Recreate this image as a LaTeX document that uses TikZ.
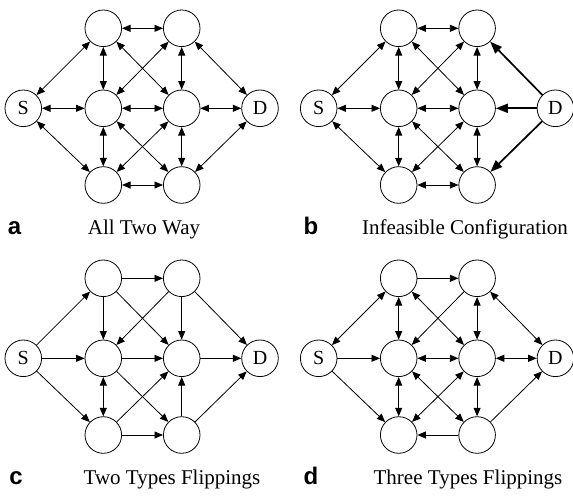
\documentclass[tikz,border=0pt]{standalone}
\usepackage{fontspec}
\setmainfont{Liberation Serif}
\setsansfont{Liberation Sans}
\usetikzlibrary{arrows.meta}

% the eight nodes of one network, names prefixed by #1
\newcommand{\netnodes}[1]{%
  \node[nd] (#1S)  at (0,0)        {S};
  \node[nd] (#1T1) at (80,-80)     {};
  \node[nd] (#1T2) at (158.4,-80)  {};
  \node[nd] (#1M1) at (80,0)       {};
  \node[nd] (#1M2) at (158.4,0)    {};
  \node[nd] (#1D)  at (236.7,0)    {D};
  \node[nd] (#1B1) at (80,76.7)    {};
  \node[nd] (#1B2) at (158.4,76.7) {};
}

\begin{document}
\begin{tikzpicture}[x=1pt, y=-1pt, line width=0.8pt,
          >={Triangle[length=8.5pt,width=7pt]},
          nd/.style={draw, circle, minimum size=36.6pt, inner sep=0pt,
                     font=\fontsize{20}{24}\selectfont},
          bi/.style={<->},
          one/.style={->},
          thk/.style={-{Triangle[length=12pt,width=9pt]}, line width=1.7pt},
          tagtxt/.style={anchor=base, font=\fontsize{24}{28}\selectfont\sffamily\bfseries},
          captxt/.style={anchor=base, font=\fontsize{21}{25}\selectfont}]
  \useasboundingbox (0,0) rectangle (573,501);

  % a: all two way
  \begin{scope}[shift={(23.3,108.3)}]
    \netnodes{a}
  \end{scope}
  \foreach \u/\v in {S/T1,S/M1,S/B1,T1/T2,T1/M1,T1/M2,T2/M1,T2/M2,T2/D,
                     M1/M2,M2/D,M1/B1,M1/B2,M2/B1,M2/B2,B1/B2,B2/D}
    \draw[bi] (a\u) -- (a\v);
  \node[tagtxt] (ta) at (14.5,234) {a};
  \node[captxt] (ca) at (144,234) {All Two Way};

  % b: infeasible configuration
  \begin{scope}[shift={(318.7,108.3)}]
    \netnodes{b}
  \end{scope}
  \foreach \u/\v in {S/T1,S/M1,S/B1,T1/T2,T1/M1,T1/M2,T2/M1,T2/M2,
                     M1/M2,M1/B1,M1/B2,M2/B1,M2/B2,B1/B2}
    \draw[bi] (b\u) -- (b\v);
  \foreach \v in {T2,M2,B2}
    \draw[thk] (bD) -- (b\v);
  \node[tagtxt] (tb) at (311,234) {b};
  \node[captxt] (cb) at (465,234) {Infeasible Configuration};

  % c: two types flippings
  \begin{scope}[shift={(23.3,358.3)}]
    \netnodes{c}
  \end{scope}
  \foreach \u/\v in {S/T1,S/M1,S/B1,T1/T2,T1/M1,T1/M2,T2/M1,T2/M2,T2/D,
                     M1/M2,M2/D,M1/B2,B1/M2,B2/M2,B1/B2,B2/D}
    \draw[one] (c\u) -- (c\v);
  \draw[bi] (cM1) -- (cB1);
  \node[tagtxt] (tc) at (16,484) {c};
  \node[captxt] (cc) at (172,484) {Two Types Flippings};

  % d: three types flippings
  \begin{scope}[shift={(318.7,358.3)}]
    \netnodes{d}
  \end{scope}
  \foreach \u/\v in {S/T1,T1/M1,T1/M2,T2/M2,T2/D,M1/M2,M2/D,
                     M1/B1,M1/B2,M2/B1,M2/B2}
    \draw[bi] (d\u) -- (d\v);
  \foreach \u/\v in {S/M1,S/B1,T1/T2,T2/M1,B2/B1,B2/D}
    \draw[one] (d\u) -- (d\v);
  \node[tagtxt] (td) at (311,484) {d};
  \node[captxt] (cd) at (468,484) {Three Types Flippings};
\end{tikzpicture}
\end{document}
